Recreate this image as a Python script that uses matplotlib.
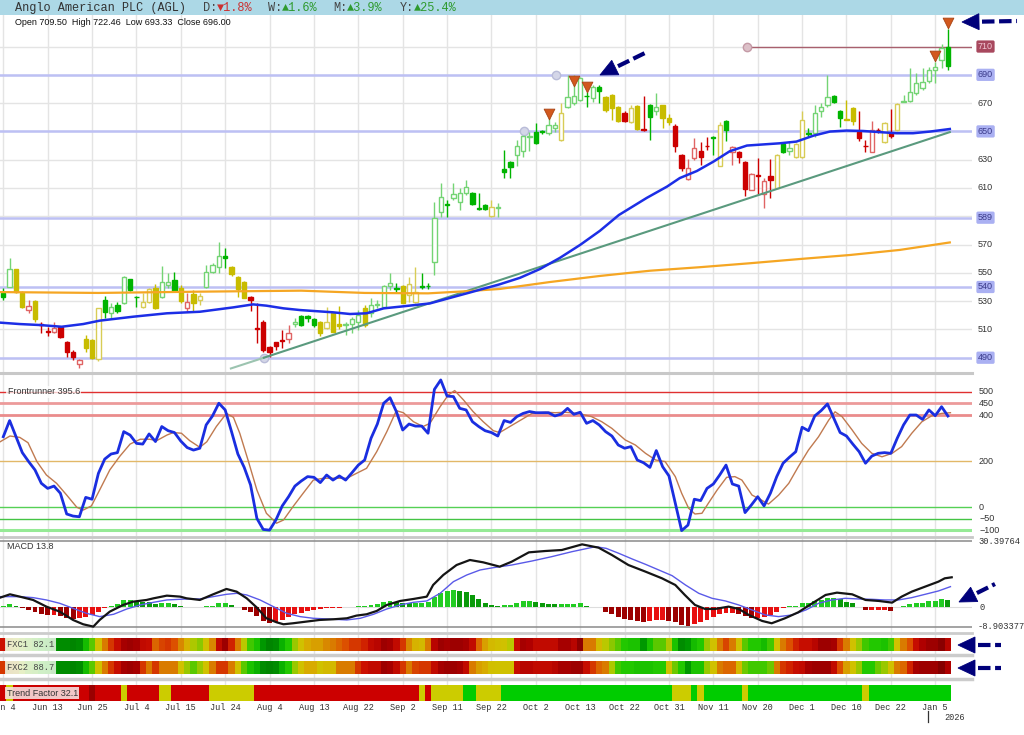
import numpy as np
import matplotlib
matplotlib.use("Agg")
import matplotlib.pyplot as plt
import matplotlib.transforms as mtrans
from matplotlib.patches import Rectangle, Polygon
from matplotlib.colors import LinearSegmentedColormap

# ---------------- data ----------------
tick_labels = ["Jun 4", "Jun 13", "Jun 25", "Jul 4", "Jul 15", "Jul 24", "Aug 4", "Aug 13",
               "Aug 22", "Sep 2", "Sep 11", "Sep 22", "Oct 2", "Oct 13", "Oct 22", "Oct 31",
               "Nov 11", "Nov 20", "Dec 1", "Dec 10", "Dec 22", "Jan 5"]
tick_bars = list(range(0, 148, 7))

opens = [535.5,540.2,552.5,536.0,523.7,530.3,513.8,508.6,508.4,511.5,
501.3,494.3,485.5,503.0,502.5,488.8,530.8,521.8,527.2,528.9,
545.6,533.1,525.6,529.6,539.0,532.7,541.4,544.9,539.0,525.4,
534.8,530.8,539.7,550.8,553.9,561.9,553.9,547.3,543.7,533.1,
511.2,515.5,497.8,500.9,502.5,503.0,513.8,519.5,519.7,517.1,
515.5,511.2,521.4,513.8,513.1,513.8,515.5,524.9,521.4,527.2,
526.1,540.7,539.0,540.7,534.3,529.6,540.7,540.7,557.9,593.2,
598.4,602.7,600.3,606.7,606.2,596.1,598.0,590.2,595.6,623.5,
628.7,633.4,636.2,645.7,649.9,649.9,648.7,652.3,644.0,667.6,
669.9,672.3,675.3,673.5,681.7,674.0,675.8,667.6,662.9,657.0,
668.3,651.8,668.8,664.1,668.8,659.8,654.1,633.4,616.4,631.0,
636.2,639.9,645.9,625.8,657.5,635.3,635.3,628.2,608.7,618.9,
605.8,618.5,610.3,640.9,636.2,632.2,632.2,648.9,648.7,664.5,
668.8,675.1,664.5,658.8,666.9,649.4,640.0,635.7,651.3,642.8,
648.7,651.1,670.6,671.6,677.5,680.5,685.6,693.5,700.6,709.5]
highs = [539.0,560.2,553.0,537.0,530.8,531.0,515.5,511.9,515.5,512.0,
502.0,495.4,489.0,506.0,503.0,525.5,533.6,528.4,529.6,547.8,
546.0,533.5,536.0,539.0,542.1,554.8,549.6,550.8,541.4,535.5,
537.9,535.5,555.5,557.0,572.0,567.3,555.0,548.0,544.0,533.5,
528.4,516.6,498.5,501.3,509.6,513.1,517.8,520.0,520.5,518.0,
516.0,526.1,522.0,526.5,515.5,519.0,523.7,527.2,532.0,530.8,
541.5,550.1,543.0,541.5,547.3,554.4,550.1,542.6,600.3,613.3,
601.5,613.7,609.7,615.6,607.0,606.7,598.5,601.5,599.1,636.9,
629.0,644.0,647.0,649.9,655.8,651.1,660.5,657.0,669.9,690.0,
690.0,688.8,678.2,682.9,682.9,675.0,676.5,668.0,664.1,668.8,
669.0,675.1,669.2,677.0,669.0,662.2,655.0,634.0,630.6,645.2,
642.8,645.7,647.1,656.5,658.0,639.5,636.0,629.0,620.4,631.0,
616.9,630.6,634.0,641.0,642.3,641.6,664.1,652.3,668.8,669.9,
690.0,676.0,665.0,672.3,667.5,664.1,644.0,657.5,652.3,656.5,
665.9,670.0,675.8,694.6,691.2,694.6,695.8,699.3,711.6,722.46]
lows = [530.8,539.7,536.0,524.9,521.4,515.5,507.2,505.6,507.2,504.0,
490.7,488.4,482.5,494.3,489.0,488.0,517.8,517.8,521.4,528.0,
537.0,526.1,525.0,529.0,524.5,532.0,539.0,536.7,528.4,522.5,
522.5,527.2,539.5,550.0,549.6,553.2,547.8,533.1,532.0,523.2,
500.1,494.3,490.7,495.4,496.6,500.1,511.9,512.5,515.5,511.9,
505.3,510.0,508.0,510.0,506.0,507.2,509.6,511.9,519.0,524.9,
525.5,537.9,536.7,528.4,529.6,529.0,538.3,538.3,548.5,589.7,
589.7,601.5,594.4,605.0,598.0,594.4,594.5,589.7,589.7,616.9,
617.4,625.2,632.2,636.2,641.0,648.0,647.5,649.9,643.3,666.4,
668.8,671.6,667.6,670.7,669.9,664.0,658.2,657.0,657.0,655.8,
651.0,650.4,644.0,661.7,652.3,654.6,635.3,622.1,615.7,629.9,
626.3,636.9,633.4,625.2,643.3,626.3,627.5,604.0,608.5,605.5,
595.6,602.7,609.8,634.5,633.4,631.5,631.0,646.3,646.3,660.5,
667.6,670.0,653.4,657.8,654.6,643.3,635.7,635.5,648.7,642.0,
645.6,650.5,670.5,671.1,675.8,679.3,684.0,684.0,694.6,693.33]
closes = [532.7,552.5,536.7,526.1,526.5,517.3,512.9,508.2,510.8,504.9,
493.8,490.2,488.4,496.6,489.5,524.9,522.5,526.1,523.2,547.3,
537.9,532.7,529.6,538.3,524.9,543.7,543.3,537.4,530.1,529.6,
528.9,533.6,550.8,555.5,561.9,560.2,549.2,538.3,532.4,530.8,
510.3,495.4,493.8,498.5,502.0,507.2,515.5,513.1,517.8,513.1,
507.2,515.5,508.4,512.4,513.6,517.1,520.2,513.1,527.2,527.7,
540.7,542.6,538.5,528.9,541.9,536.7,540.2,540.5,589.0,603.8,
598.0,605.7,606.7,610.4,598.7,595.4,595.1,596.3,596.8,621.6,
624.5,640.0,646.4,647.1,641.7,649.6,654.6,654.6,662.9,674.0,
674.7,687.6,674.9,681.7,678.9,664.8,666.4,657.5,657.5,666.9,
651.6,651.3,660.5,667.6,659.3,657.0,640.0,624.0,624.0,638.6,
632.2,639.5,645.4,654.6,651.1,639.3,632.2,609.1,619.7,618.5,
615.0,615.7,633.4,635.7,638.1,640.9,658.1,648.4,662.9,667.6,
674.0,670.6,659.3,658.4,657.5,645.6,639.5,651.1,650.8,655.8,
646.4,669.2,671.6,678.2,684.1,685.2,693.5,695.3,708.8,696.0]
candle_state = ("GGYYRYRRRR" "RRRYYYGGGG" "GGYYYGGGYR" "YYGGGGYYYR" "RRRRRRGGGG"
                "YYYYGGGYGG" "GGGYYYGGGG" "GGGGGGGYGG" "GGGGGGGGYG" "GGGGGYYYRY"
                "YRGGYYRRRR" "RRGYGRRRRR" "RRYGGYYGGG" "GGGYYRRRRY" "RYGGGGGGGG")

ma50_x = [-0.5,2.6,5.8,9.2,12.6,15.2,20.5,25.8,31.0,36.3,39.4,41.5,44.2,46.8,52.0,54.7,57.3,60.0,
          62.6,67.3,73.1,78.3,81.5,84.7,87.8,91.0,94.1,97.1,101.5,104.7,106.7,109.4,112.0,114.6,
          117.3,122.5,125.1,127.8,130.4,133.0,135.6,140.9,143.5,146.2,149.3]
ma50_y = [514.8,513.8,513.1,511.9,513.8,516.2,519.0,521.4,522.5,525.6,527.7,526.8,524.9,523.7,522.1,
          520.9,521.4,524.9,526.1,528.4,535.5,541.9,546.5,552.8,560.6,569.8,579.7,590.9,603.0,611.0,
          617.0,622.0,628.6,636.0,640.0,641.6,642.8,647.0,649.9,650.6,650.3,648.7,648.7,649.9,651.7]
ma200_x = [-0.5,15,31,47,57,67,73,78.3,86.2,94.1,102,109.9,117.8,125.7,133.5,141.4,149.3]
ma200_y = [536.4,535.8,536.7,537.4,535.8,535.5,537.0,538.6,543.5,547.8,551.5,554.0,556.8,559.8,
           562.6,566.2,571.5]

trend_x = [35.9, 41.1, 149.3]
trend_y = [482.4, 490.0, 649.5]
levels = [690, 650, 589, 540, 490]
resist_level = 710
pivot_x = [41.1, 82.1, 87.2]
pivot_y = [490, 650, 690]
resist_start = 117.3
sig_idx = [86, 90, 92, 147, 149]
sig_tip = [658.1, 681.7, 677.7, 699.4, 723.0]
price_plain = [670, 630, 610, 570, 550, 530, 510]

frontrunner = [306,376,306,237,198,162,104,82,92,61,
-29,-38,-41,43,35,147,209,231,237,328,
313,277,274,318,285,350,332,324,287,259,
248,256,357,396,451,422,328,231,173,97,
-48,-96,-99,-55,6,46,92,114,133,130,
107,140,118,136,118,150,183,205,299,361,
451,475,415,335,361,352,352,321,511,552,
482,480,429,422,371,350,332,324,309,376,
368,393,407,415,410,410,410,396,404,429,
403,412,364,376,357,328,309,270,256,263,
205,193,173,246,176,136,17,-101,-77,35,
29,82,101,140,183,101,92,-23,10,46,
6,61,133,191,217,241,347,332,396,419,
448,386,324,309,274,241,191,222,234,237,
234,299,357,400,400,381,422,397,436,395.6]
fr_sig_x = [-0.5,1.05,2.6,3.9,5.3,6.8,8.4,10.0,11.6,12.6,13.9,15.2,16.8,18.4,20.0,21.6,23.1,24.2,
            25.8,26.8,28.1,29.4,31.0,32.1,33.6,35.2,36.3,37.3,38.6,40.0,41.5,43.1,44.2,45.7,47.3,
            48.9,50.5,52.1,54.2,55.7,57.3,58.9,60.5,62.0,63.1,64.7,66.2,67.3,68.9,70.2,71.2,72.6,
            74.1,75.7,77.3,78.3,79.4,81.8,83.4,85.5,87.1,88.6,90.7,92.8,94.4,96.0,98.1,99.7,101.3,
            102.9,104.4,106.0,107.0,108.1,109.1,110.2,111.2,112.6,114.1,115.4,116.5,118.1,119.1,
            120.7,122.3,123.9,125.4,127.0,128.6,130.2,131.2,132.3,133.9,135.4,137.0,138.6,140.2,
            141.7,143.3,144.9,146.4,148.0,149.4]
fr_sig_y = [284,309,303,280,198,140,104,53,0,-12,6,75,162,222,274,295,295,289,313,324,321,289,260,
            284,350,407,390,321,205,75,-26,-69,-55,3,61,118,126,126,126,147,169,241,328,419,410,371,
            350,364,436,487,506,465,415,371,332,324,342,381,407,412,410,412,407,393,371,342,292,270,
            234,205,198,133,61,-4,-29,-26,17,75,130,133,118,53,39,14,53,104,176,248,306,378,414,393,
            335,277,234,219,234,263,321,371,396,407,410]
fr_levels = [500, 450, 400, 200, 0, -50, -100]

macd_x = [-0.5,1.05,2.6,4.7,6.8,8.9,11.0,12.6,14.2,15.2,16.8,18.9,20.5,22.6,23.7,25.8,27.9,28.9,31.0,
          33.1,35.2,36.8,38.4,40.0,41.5,43.1,44.2,45.7,47.8,49.9,52.1,54.2,55.7,57.3,58.9,60.5,62.6,
          64.7,66.8,67.8,69.4,71.5,73.6,75.7,78.3,80.2,82.9,85.5,88.1,91.3,93.9,96.0,98.6,101.3,
          103.9,106.0,107.5,109.1,110.7,112.3,114.4,116.0,117.6,119.7,121.2,123.3,125.4,127.6,
          129.7,131.5,133.9,136.0,138.1,140.2,141.7,143.3,145.4,147.5,148.5,149.6]
macd_y = [4.43,5.96,4.89,3.36,0.29,-2.01,-5.85,-7.84,-8.92,-5.85,-2.01,1.06,2.59,3.36,4.12,5.35,4.89,
          4.12,3.36,5.96,8.42,7.19,4.12,-0.17,-5.08,-6.92,-7.84,-7.38,-6.61,-5.85,-5.54,-5.08,-3.85,
          -3.24,-1.71,1.06,2.90,3.82,4.89,10.26,14.86,19.46,21.77,20.69,18.70,21.0,25.29,25.91,26.37,
          28.97,27.44,24.07,19.46,16.40,13.33,10.26,5.66,1.06,-0.78,-0.78,0.29,-0.78,-3.55,-6.31,
          -7.38,-5.08,-2.32,1.82,5.66,6.73,5.96,3.36,2.90,2.13,4.89,7.19,9.49,11.79,13.33,13.8]
macd_sig_x = [-0.5,2.6,4.7,6.8,8.9,11.0,13.1,15.2,17.4,19.5,21.6,23.7,25.8,28.9,31.0,33.1,35.2,36.8,
              38.4,40.5,42.6,44.7,46.8,48.9,52.1,54.2,56.3,58.4,60.5,62.6,64.7,66.8,68.9,71.0,73.1,
              75.2,77.3,80.2,83.4,86.5,89.7,93.4,95.1,97.1,99.2,101.3,103.4,105.5,107.6,109.7,111.8,
              113.9,116.0,118.1,120.2,122.3,124.4,126.6,128.6,130.7,132.8,134.9,137.0,139.1,141.2,
              143.3,145.4,147.5,149.4]
macd_sig_y = [4.89,4.89,4.43,3.36,1.82,-0.48,-2.78,-4.31,-3.24,-0.78,1.06,2.28,3.36,3.82,3.82,4.89,
              5.96,6.42,5.66,3.36,0.29,-2.78,-4.31,-5.08,-5.54,-5.85,-5.08,-3.24,-0.78,1.06,2.28,2.90,
              6.42,11.79,14.86,17.16,18.24,19.46,21.31,23.30,25.60,27.90,27.13,24.83,22.23,19.77,17.16,
              14.55,10.26,6.42,4.12,2.90,1.06,-1.25,-3.55,-4.31,-3.55,-1.25,1.82,3.36,4.12,3.82,3.66,
              3.36,3.36,4.43,5.96,7.50,9.49]
macd_hist = [0.77,1.53,0.77,-0.46,-1.23,-1.99,-3.07,-3.53,-3.53,-3.84,
-5.06,-5.37,-5.06,-4.30,-3.53,-1.99,-0.3,0.77,1.38,3.22,
3.22,2.91,2.61,2.30,1.53,1.84,1.84,1.53,0.77,0.1,
-0.1,0.1,0.61,0.77,1.84,1.84,1.07,0.1,-1.23,-1.99,
-3.84,-6.29,-7.36,-6.90,-5.83,-4.30,-3.22,-2.76,-1.69,-1.23,
-0.77,-0.46,-0.46,-0.31,0.1,0.2,0.61,0.61,1.07,1.53,
2.30,2.91,2.61,2.15,1.84,1.84,1.84,2.61,4.91,6.44,
7.52,7.98,7.52,7.21,5.68,3.84,1.84,1.07,0.61,1.07,
1.07,1.84,2.91,2.91,2.30,2.15,1.53,1.38,1.38,1.38,
1.38,1.84,0.77,0.2,-0.1,-1.99,-3.22,-4.30,-5.37,-5.83,
-6.29,-6.90,-6.29,-5.83,-5.83,-6.29,-6.90,-8.13,-8.44,-7.82,
-6.90,-5.83,-4.30,-3.22,-2.76,-2.76,-3.22,-3.99,-4.76,-4.76,
-4.30,-3.53,-2.30,-0.2,0.61,0.77,1.84,1.84,2.91,3.37,
4.14,4.45,3.84,2.30,1.84,0.1,-1.23,-1.23,-1.23,-1.23,
-1.69,0.1,0.61,1.38,1.84,1.84,2.91,2.91,3.84,3.37]
macd_top, macd_bottom = 30.39764, -8.903377

fxc1 = [78,55,45,35,30,25,20,15,8,5,
5,3,5,18,28,45,62,72,80,90,
92,90,82,80,65,70,72,68,60,50,
38,33,45,60,82,92,75,62,40,25,
20,8,3,5,15,22,35,45,52,55,
55,60,62,65,68,72,72,75,82,85,
92,90,82,72,60,50,48,62,85,92,
90,92,92,90,82,65,55,48,46,45,
40,80,90,88,82,82,82,82,90,90,
85,95,62,62,48,40,33,28,22,20,
20,8,20,28,28,38,20,5,8,18,
22,35,45,62,70,62,45,28,22,22,
18,25,45,62,68,75,80,80,85,92,
92,90,72,62,45,35,25,22,22,20,
25,45,62,68,80,88,92,92,96,85]
fxc2 = [72,62,60,40,30,28,22,18,8,5,
5,3,5,18,28,45,62,72,80,90,
92,90,72,62,72,62,62,62,45,35,
28,35,45,62,72,72,62,45,28,20,
15,5,3,5,15,22,35,45,52,52,
45,48,48,62,62,62,72,78,82,82,
92,90,82,72,62,70,72,72,82,90,
92,92,90,82,62,55,52,46,45,45,
45,80,85,85,82,82,82,85,90,90,
92,92,80,72,65,62,38,25,22,22,
20,20,20,22,22,45,30,22,8,20,
20,35,45,62,65,65,48,30,25,25,
25,30,62,72,75,80,82,90,92,92,
92,82,68,55,45,35,22,22,30,35,
45,62,65,75,90,92,92,92,97,88]
trend_runs = [("R",1),("Y",1),("R",12),("D",1),("R",4),("Y",1),("R",5),("Y",2),("R",6),("Y",7),
              ("R",26),("Y",1),("R",1),("Y",5),("G",2),("Y",4),("G",27),("Y",3),("G",1),("Y",1),
              ("G",6),("Y",1),("G",18),("Y",1),("G",13)]

# ---------------- figure ----------------
W, H = 1024, 735
fig = plt.figure(figsize=(W / 100, H / 100), dpi=100)
fig.patch.set_facecolor("white")
MONO = ["Liberation Mono", "DejaVu Sans Mono"]
SANS = ["Liberation Sans", "DejaVu Sans"]
NAVY = "#00007a"
GRID = "#e4e4e4"


def rect(x0, y0, x1, y1):
    return [x0 / W, 1 - y1 / H, (x1 - x0) / W, (y1 - y0) / H]


XL = (-0.52, 152.8)
n = len(opens)
idx = np.arange(n)


def base_axes(r, ylim):
    a = fig.add_axes(r)
    a.set_xlim(XL)
    a.set_ylim(ylim)
    for s in a.spines.values():
        s.set_visible(False)
    a.set_xticks(tick_bars)
    a.tick_params(length=0, labelbottom=False, labelleft=False)
    a.grid(axis="x", color=GRID, lw=1, zorder=0)
    a.set_axisbelow(True)
    return a


# overlay in pixel coordinates
ov = fig.add_axes([0, 0, 1, 1], zorder=50)
ov.set_xlim(0, W)
ov.set_ylim(H, 0)
ov.axis("off")
ov.patch.set_alpha(0)

# ---------- price panel ----------
ax = base_axes(rect(0, 15, 972, 372), (479.9, 732.3))
ax.set_yticks(np.arange(490, 711, 20))
ax.grid(axis="y", color=GRID, lw=1, zorder=0)
for lv in levels:
    ax.axhline(lv, color="#bdc0f4", lw=1.8, zorder=1)
ax.hlines(resist_level, resist_start, XL[1], color="#a8606e", lw=1, zorder=1)
ax.plot(pivot_x, pivot_y, "o", ms=6, mfc="#d4d6e8", mec="#b9bcd8", zorder=2)
ax.plot([resist_start], [resist_level], "o", ms=6, mfc="#dcc0c8", mec="#c49aa6", zorder=2)

fill_c = {"G": "#00b400", "Y": "#c8bc00", "R": "#cc0000"}
edge_c = {"G": "#74d474", "Y": "#d8cc55", "R": "#e06464"}
for i in range(n):
    o, h, l, c = opens[i], highs[i], lows[i], closes[i]
    k = candle_state[i]
    up = c >= o
    col = edge_c[k] if up else fill_c[k]
    ax.vlines(i, l, h, color=col, lw=1, zorder=3)
    bot = min(o, c)
    hgt = max(abs(c - o), 0.35)
    ax.add_patch(Rectangle((i - 0.34, bot), 0.68, hgt, fc="white" if up else fill_c[k],
                           ec=col, lw=1, zorder=4))

ax.plot(trend_x[:2], trend_y[:2], color="#9cc4b0", lw=1.5, zorder=5)
ax.plot(trend_x[1:], trend_y[1:], color="#5a9a7e", lw=1.5, zorder=5)
ax.plot(ma200_x, ma200_y, color="#f5a623", lw=1.6, zorder=5)
ax.plot(ma50_x, ma50_y, color="#1c2ee6", lw=1.8, zorder=6)

tri_tr = mtrans.offset_copy(ax.transData, fig=fig, x=0, y=5.5, units="dots")
ax.scatter(sig_idx, sig_tip, marker="v", s=60, c="#d2581e", edgecolors="#a84414",
           linewidths=0.6, transform=tri_tr, zorder=8)

# right price labels
tp = mtrans.blended_transform_factory(ov.transData, ax.transData)
for v in price_plain:
    ov.text(978, v, str(v), transform=tp, fontsize=6.5, family=SANS, color="#333333",
            va="center", ha="left")
for v in levels:
    ov.text(978, v, str(v), transform=tp, fontsize=6.5, family=SANS, color="#3a3a8a",
            va="center", ha="left",
            bbox=dict(boxstyle="round,pad=0.18", fc="#aab0f2", ec="none"))
ov.text(978, resist_level, str(resist_level), transform=tp, fontsize=6.5, family=SANS,
        color="#f2c8d4", va="center", ha="left",
        bbox=dict(boxstyle="round,pad=0.18", fc="#a8485e", ec="none"))

# ---------- Frontrunner panel ----------
af = base_axes(rect(0, 374, 972, 536), (-124.4, 577.8))
fr_styles = {500: ("#e03030", 1.0), 450: ("#ec9a9a", 2.0), 400: ("#ea8c8c", 2.0),
             200: ("#e2b868", 1.0), 0: ("#55d055", 1.0), -50: ("#44c444", 1.0),
             -100: ("#96ea96", 2.2)}
for lv in fr_levels:
    c_, w_ = fr_styles[lv]
    af.axhline(lv, color=c_, lw=w_, zorder=1)
af.plot(fr_sig_x, fr_sig_y, color="#c07a50", lw=1.0, zorder=3)
af.plot(idx, frontrunner, color="#1a2ee0", lw=2.0, zorder=4)
af.text(0.008, 500, "Frontrunner 395.6", transform=af.get_yaxis_transform(), fontsize=6.5,
        family=SANS, color="#333333", va="center", ha="left", zorder=6,
        bbox=dict(boxstyle="square,pad=0.15", fc="white", ec="none", alpha=0.75))
tf_ = mtrans.blended_transform_factory(ov.transData, af.transData)
for lv in fr_levels:
    ov.text(979, lv, str(lv).replace("-", "\u2212"), transform=tf_, fontsize=6.5, family=SANS,
            color="#333333", va="center", ha="left")

# ---------- MACD panel ----------
am = base_axes(rect(0, 538, 972, 632), (-11.4, 31.9))
am.axhline(macd_top, color="#8a8a8a", lw=1.1, zorder=1)
am.axhline(macd_bottom, color="#8a8a8a", lw=1.1, zorder=1)
am.axhline(0, color="#dddddd", lw=0.8, zorder=1)
hcols = []
for i, v in enumerate(macd_hist):
    p = macd_hist[i - 1] if i > 0 else v
    if v >= 0:
        hcols.append("#22cc22" if v >= p else "#0a9a0a")
    else:
        hcols.append("#9c0000" if v < p else "#e81010")
am.bar(idx, macd_hist, width=0.78, color=hcols, zorder=2)
am.plot(macd_sig_x, macd_sig_y, color="#5a5ae8", lw=1.0, zorder=3)
am.plot(macd_x, macd_y, color="#151515", lw=1.6, zorder=4)
am.text(0.007, 28.2, "MACD 13.8", transform=am.get_yaxis_transform(), fontsize=6.5,
        family=SANS, color="#333333", va="center", ha="left", zorder=6)
tm = mtrans.blended_transform_factory(ov.transData, am.transData)
ov.text(978, macd_top, "30.39764", transform=tm, fontsize=6.3, family=MONO, color="#333333",
        va="center", ha="left")
ov.text(980, 0, "0", transform=tm, fontsize=6.3, family=MONO, color="#333333",
        va="center", ha="left")
ov.text(978, macd_bottom, "-8.903377", transform=tm, fontsize=6.3, family=MONO,
        color="#333333", va="center", ha="left")

# ---------- heat strips ----------
ast = base_axes(rect(0, 633, 972, 701), (68, 0))
cmap = LinearSegmentedColormap.from_list("fxc", [
    (0.00, "#007a00"), (0.12, "#00a800"), (0.22, "#22c800"), (0.33, "#8cc800"),
    (0.43, "#cec800"), (0.52, "#d8ac00"), (0.60, "#d88800"), (0.68, "#dc5200"),
    (0.78, "#cc1000"), (0.88, "#b00000"), (1.00, "#780000")])
ast.bar(idx, [13] * n, bottom=5, width=1.0, color=cmap(np.array(fxc1) / 100.0), zorder=2)
ast.bar(idx, [13] * n, bottom=28, width=1.0, color=cmap(np.array(fxc2) / 100.0), zorder=2)
tf_col = {"R": "#cc0000", "D": "#9a0000", "Y": "#cccc00", "G": "#00cc00"}
tcols = []
for k, cnt in trend_runs:
    tcols += [tf_col[k]] * cnt
ast.bar(idx, [16] * n, bottom=52, width=1.0, color=tcols, zorder=2)
ast.text(0.007, 11.5, "FXC1 82.1", transform=ast.get_yaxis_transform(), fontsize=6.3,
         family=MONO, color="#444444", va="center", ha="left", zorder=5,
         bbox=dict(boxstyle="square,pad=0.2", fc="#eef6ea", ec="none", alpha=0.85))
ast.text(0.007, 34.5, "FXC2 88.7", transform=ast.get_yaxis_transform(), fontsize=6.3,
         family=MONO, color="#444444", va="center", ha="left", zorder=5,
         bbox=dict(boxstyle="square,pad=0.2", fc="#eef6ea", ec="none", alpha=0.85))
ast.text(0.007, 60, "Trend Factor 32.1", transform=ast.get_yaxis_transform(), fontsize=6.5,
         family=SANS, color="#333333", va="center", ha="left", zorder=5,
         bbox=dict(boxstyle="square,pad=0.15", fc="#f6dede", ec="none", alpha=0.9))
ast.set_xticks(tick_bars)
ast.set_xticklabels(tick_labels, family=MONO, fontsize=6.2, color="#333333")
ast.tick_params(axis="x", labelbottom=True, length=0, pad=1.5)

# ---------- separators ----------
for y, c_, w_ in [(373, "#c8c8c8", 2.2), (537, "#c8c8c8", 2.0), (633, "#cccccc", 2.0),
                  (655, "#cccccc", 2.5), (679, "#cccccc", 2.5)]:
    ov.plot([0, 972], [y, y], color=c_, lw=w_, zorder=1)

# ---------- header ----------
ov.add_patch(Rectangle((0, 0), W, 14.5, fc="#acd8e6", ec="none", zorder=1))
ov.text(15, 7.5, "Anglo American PLC (AGL)", fontsize=8.6, family=MONO, color="#333333",
        va="center", ha="left", zorder=3)
for xl, lab, val, col in [(203, "D:", "\u25bc1.8%", "#cc3030"), (268, "W:", "\u25b21.6%", "#2e9a2e"),
                          (333, "M:", "\u25b23.9%", "#2e9a2e"), (400, "Y:", "\u25b225.4%", "#2e9a2e")]:
    ov.text(xl, 7.5, lab, fontsize=8.6, family=MONO, color="#444444", va="center", ha="left", zorder=3)
    ov.text(xl + 14.3, 7.5, val, fontsize=8.6, family=MONO, color=col, va="center", ha="left", zorder=3)
ov.text(15, 22.5, "Open 709.50  High 722.46  Low 693.33  Close 696.00", fontsize=6.5,
        family=SANS, color="#111111", va="center", ha="left", zorder=3)

# year marker
ov.plot([928, 928], [711, 722], color="#333333", lw=0.9)
ov.text(944, 717, "2026", fontsize=6.2, family=MONO, color="#333333", va="center", ha="left")


# ---------- arrows ----------
def arrow(tip, tail, hl=17, hw=16):
    tip = np.array(tip, float)
    tail = np.array(tail, float)
    d = tail - tip
    d /= np.hypot(*d)
    p = np.array([-d[1], d[0]])
    b = tip + d * hl
    ov.add_patch(Polygon([tip, b + p * hw / 2, b - p * hw / 2], closed=True, fc=NAVY, ec=NAVY,
                         lw=0.6, zorder=30))
    s = b + d * 3
    ov.plot([s[0], tail[0]], [s[1], tail[1]], color=NAVY, lw=3.0, linestyle=(0, (3.0, 1.1)),
            dash_capstyle="butt", zorder=30)


arrow((962, 22), (1017, 21))
arrow((600, 75), (647, 52))
arrow((959, 602), (995, 584))
arrow((958, 645), (1001, 645))
arrow((958, 668), (1001, 668))

fig.savefig("out.png", dpi=100, facecolor="white")
